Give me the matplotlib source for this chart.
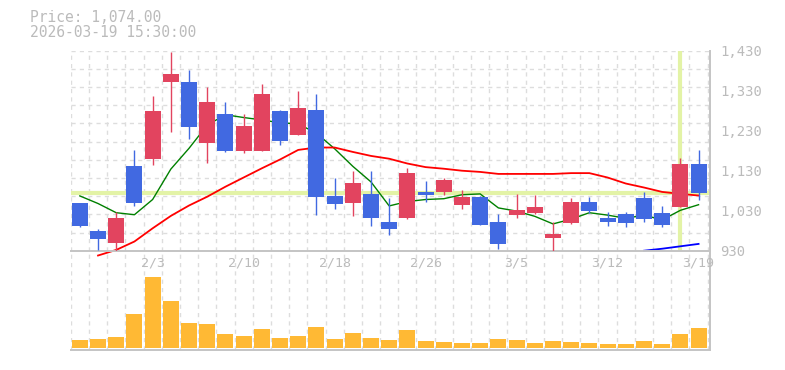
import matplotlib
matplotlib.use('Agg')
import matplotlib.pyplot as plt
import numpy as np

# daily candles, 1/28 .. 3/19
opens  = [1049, 979, 950, 1142, 1159, 1352, 1352, 1200, 1272, 1180, 1180, 1279,
          1220, 1282, 1067, 1049, 1072, 1002, 1012, 1077, 1077, 1045, 1064, 1002,
          1020, 1025, 962, 1000, 1052, 1012, 1022, 1062, 1024, 1040, 1147]
highs  = [1050, 984, 1028, 1182, 1317, 1426, 1381, 1340, 1302, 1272, 1347, 1281,
          1329, 1322, 1112, 1129, 1129, 1062, 1138, 1104, 1112, 1082, 1066, 1022,
          1072, 1069, 1002, 1062, 1065, 1027, 1027, 1077, 1042, 1162, 1182]
lows   = [990, 931, 930, 1042, 1144, 1226, 1209, 1150, 1178, 1175, 1180, 1195,
          1220, 1020, 1035, 1017, 992, 970, 1009, 1052, 1070, 1035, 995, 935,
          1012, 1023, 930, 997, 1024, 992, 990, 1002, 990, 1040, 1057]
closes = [992, 960, 1012, 1049, 1279, 1372, 1239, 1302, 1180, 1242, 1322, 1205,
          1287, 1065, 1047, 1099, 1012, 985, 1124, 1070, 1107, 1064, 995, 948,
          1032, 1039, 972, 1052, 1030, 1002, 1000, 1010, 995, 1147, 1074]
volumes = [80, 90, 110, 340, 710, 470, 250, 240, 140, 120, 190, 100,
           120, 210, 90, 150, 100, 80, 180, 70, 60, 50, 50, 90,
           80, 50, 70, 60, 50, 40, 40, 70, 40, 140, 200]

ma5 = [1067, 1048, 1025, 1020, 1058, 1134, 1186, 1244, 1270, 1263, 1257, 1250,
       1247, 1224, 1185, 1141, 1102, 1042, 1053, 1058, 1060, 1070, 1072, 1037,
       1029, 1016, 997, 1009, 1025, 1019, 1011, 1019, 1007, 1031, 1045]
ma25 = [None, 918, 932, 953, 986, 1017, 1043, 1065, 1090, 1113, 1136, 1158,
        1182, 1188, 1188, 1177, 1167, 1160, 1148, 1139, 1135, 1130, 1127, 1122,
        1122, 1122, 1122, 1124, 1124, 1113, 1098, 1088, 1077, 1072, 1068]
ma75 = [None] * 31 + [930, 935, 941, 947]

tick_idx = [4, 9, 14, 19, 24, 29, 34]
tick_labels = ['2/3', '2/10', '2/18', '2/26', '3/5', '3/12', '3/19']
yticks = [930, 1030, 1130, 1230, 1330, 1430]

last_price = 1074.00
cursor_idx = 33

UP = '#e2445f'
DOWN = '#4169e1'
GRID = '#dddddd'
TXT = '#bbbbbb'
CROSS = '#e3f3a6'
font = 'DejaVu Sans Mono'

fig = plt.figure(figsize=(7.85, 3.7), dpi=100)
ax = fig.add_axes([0.0901, 0.3224, 0.8144, 0.5405])
vax = fig.add_axes([0.0901, 0.0550, 0.8144, 0.2674], sharex=ax)

n = len(closes)
x = np.arange(n)
ymin, ymax = 930, 1430

# grid
for k in range(n + 1):
    ax.axvline(k - 0.5, color=GRID, lw=1, ls=(0, (3, 3)), zorder=0)
    vax.axvline(k - 0.5, color=GRID, lw=1, ls=(0, (3, 3)), zorder=0)
for j in range(1, 12):
    ax.axhline(ymin + (ymax - ymin) * j / 11, color=GRID, lw=1, ls=(0, (3, 3)), zorder=0)

# crosshair
ax.axhline(last_price, color=CROSS, lw=3, zorder=1)
ax.axvline(cursor_idx, color=CROSS, lw=3, zorder=1)

# moving averages
ma5_arr = np.array(ma5, dtype=float)
ma25_arr = np.array([np.nan if v is None else v for v in ma25])
ma75_arr = np.array([np.nan if v is None else v for v in ma75])
ax.plot(x, ma5_arr, color='green', lw=1, zorder=2, clip_on=False)
ax.plot(x, ma25_arr, color='red', lw=1.3, zorder=2, clip_on=False)
ax.plot(x, ma75_arr, color='blue', lw=1.3, zorder=2, clip_on=False)

# candles
w = 0.88
for i in range(n):
    c = UP if closes[i] >= opens[i] else DOWN
    ax.vlines(i, lows[i], highs[i], color=c, lw=1, zorder=3)
    lo = min(opens[i], closes[i])
    h = max(abs(closes[i] - opens[i]), 1)
    ax.bar(i, h, bottom=lo, width=w, color=c, zorder=4, linewidth=0)

# volume
vax.bar(x, volumes, width=w, color='#ffb934', zorder=2, linewidth=0)

ax.set_xlim(-0.5, n - 0.37)
ax.set_ylim(ymin, ymax)
vax.set_ylim(-18, 972)

for a in (ax, vax):
    for s in ('top', 'left'):
        a.spines[s].set_visible(False)
    for s in ('bottom', 'right'):
        a.spines[s].set_color('#c4c4c4')
        a.spines[s].set_linewidth(1.4)

ax.yaxis.tick_right()
ax.set_yticks(yticks)
ax.set_yticklabels([f'{v:,}' for v in yticks], family=font, fontsize=10, color=TXT)
ax.tick_params(axis='y', length=0, pad=7.5)
ax.set_xticks(tick_idx)
ax.set_xticklabels(tick_labels, family=font, fontsize=9.5, color=TXT)
ax.tick_params(axis='x', length=0, pad=4)
vax.set_yticks([])
vax.tick_params(axis='x', length=0, labelbottom=False)
vax.patch.set_alpha(0)
ax.set_zorder(2)
ax.patch.set_alpha(0)

fig.text(0.038, 0.954, f'Price: {last_price:,.2f}', family=font, fontsize=10.5,
         color=TXT, va='center', ha='left')
fig.text(0.038, 0.911, '2026-03-19 15:30:00', family=font, fontsize=10.5,
         color=TXT, va='center', ha='left')

fig.savefig('out.png', dpi=100)
